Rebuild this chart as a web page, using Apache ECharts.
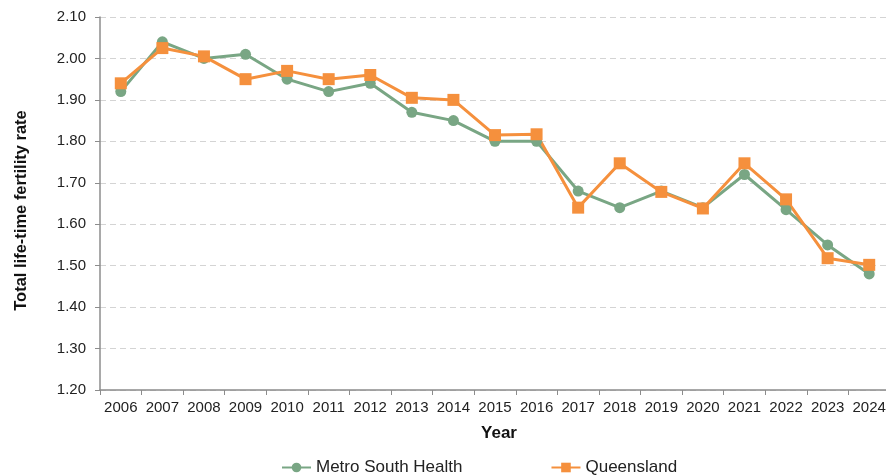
<!DOCTYPE html>
<html>
<head>
<meta charset="utf-8">
<script src="https://cdn.jsdelivr.net/npm/echarts@6/dist/echarts.min.js"></script>
<style>
  html, body { margin: 0; padding: 0; background: #fff; overflow: hidden; }
  #chart { width: 892px; height: 476px; }
</style>
</head>
<body>
<div id="chart"></div>
<script>
const years = ['2006', '2007', '2008', '2009', '2010', '2011', '2012', '2013', '2014', '2015',
  '2016', '2017', '2018', '2019', '2020', '2021', '2022', '2023', '2024']
const metroSouth = [1.92, 2.04, 2.00, 2.01, 1.95, 1.92, 1.94, 1.87, 1.85, 1.80,
  1.80, 1.68, 1.64, 1.68, 1.64, 1.72, 1.635, 1.55, 1.48]
const queensland = [1.94, 2.025, 2.005, 1.95, 1.97, 1.95, 1.96, 1.905, 1.90, 1.815,
  1.817, 1.64, 1.747, 1.678, 1.638, 1.747, 1.66, 1.518, 1.502]

const green = '#79a684'
const orange = '#f5903d'
const font = 'Liberation Sans, Arial, sans-serif'

// chart div is a bit wider than the window: the plot runs past the right edge
const chart = echarts.init(document.getElementById('chart'))

const options = {
  animation: false,
  textStyle: { fontFamily: font },
  grid: {
    left: 100,
    right: 2,
    top: 17,
    bottom: 86,
    containLabel: false
  },
  legend: {
    left: 276,
    top: 454,
    itemWidth: 29,
    itemHeight: 12,
    itemGap: 88,
    textStyle: { fontFamily: font, fontSize: 17, color: '#222' },
    data: ['Metro South Health', 'Queensland']
  },
  xAxis: {
    type: 'category',
    data: years,
    boundaryGap: true,
    name: 'Year',
    nameLocation: 'middle',
    nameGap: 35,
    nameTextStyle: { fontFamily: font, fontSize: 17, fontWeight: 'bold', color: '#111', padding: [0, 0, 0, 8] },
    axisLine: { lineStyle: { color: '#8c8c8c', width: 1.5 } },
    axisTick: { show: true, alignWithLabel: false, length: 5, lineStyle: { color: '#8c8c8c' } },
    axisLabel: { fontFamily: font, fontSize: 15, color: '#222', margin: 10, interval: 0 },
    splitLine: { show: false }
  },
  yAxis: {
    type: 'value',
    min: 1.2,
    max: 2.1,
    interval: 0.1,
    name: 'Total life-time fertility rate',
    nameLocation: 'middle',
    nameGap: 70,
    nameTextStyle: { fontFamily: font, fontSize: 16.5, fontWeight: 'bold', color: '#111', padding: [0, 14, 0, 0] },
    axisLine: { show: true, lineStyle: { color: '#8c8c8c', width: 1.5 } },
    axisTick: { show: true, length: 5, lineStyle: { color: '#8c8c8c' } },
    axisLabel: {
      fontFamily: font, fontSize: 15, color: '#222', margin: 14,
      formatter: v => v.toFixed(2)
    },
    splitLine: { show: true, lineStyle: { color: '#d4d4d4', type: [6, 4], width: 1.2 } }
  },
  series: [
    {
      name: 'Metro South Health',
      type: 'line',
      data: metroSouth,
      symbol: 'circle',
      symbolSize: 11,
      lineStyle: { color: green, width: 3 },
      itemStyle: { color: green }
    },
    {
      name: 'Queensland',
      type: 'line',
      data: queensland,
      symbol: 'rect',
      symbolSize: 12,
      lineStyle: { color: orange, width: 3 },
      itemStyle: { color: orange }
    }
  ]
}

chart.setOption(options)
</script>
</body>
</html>
